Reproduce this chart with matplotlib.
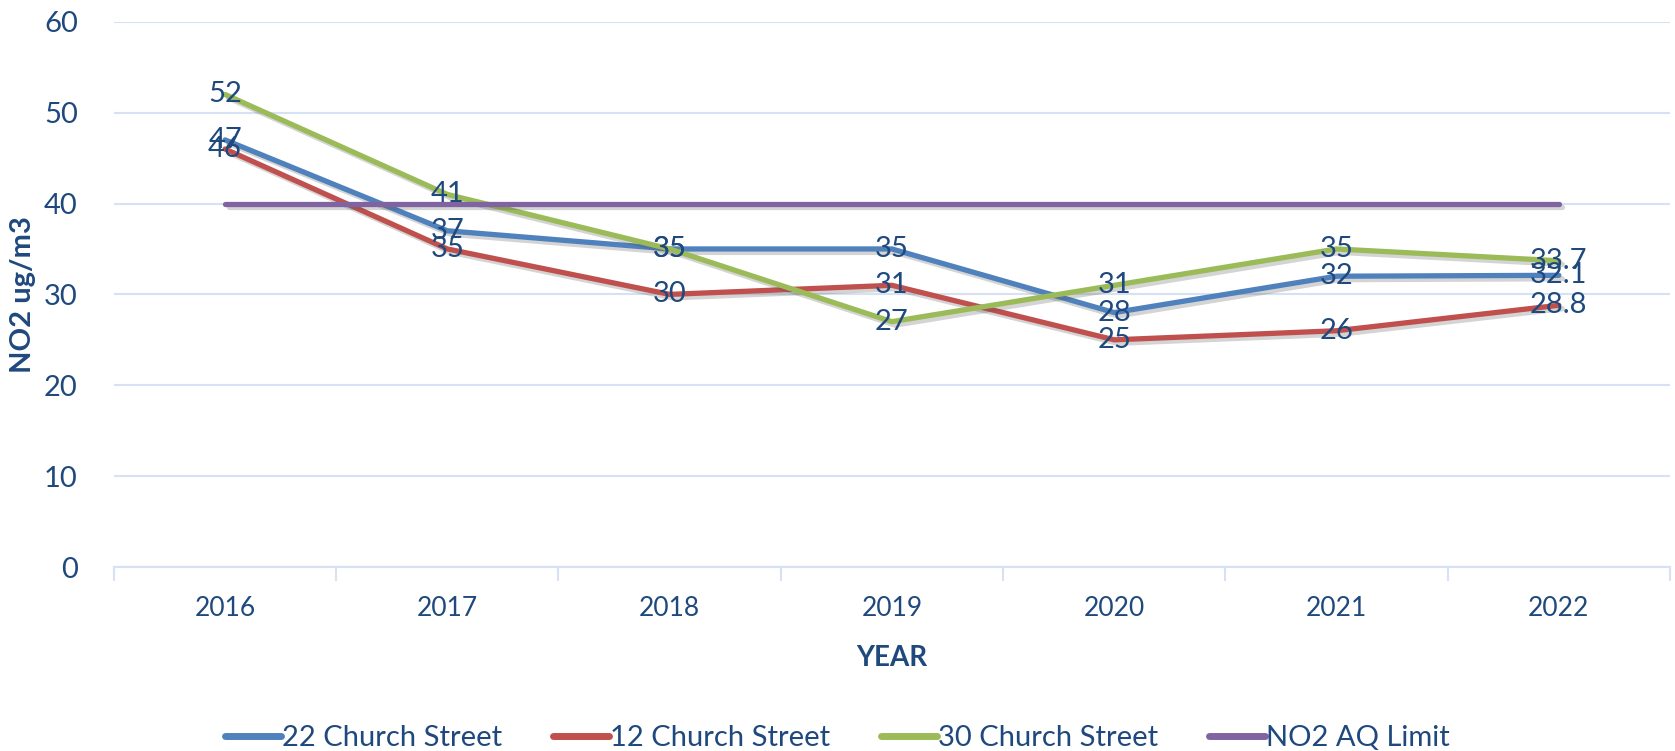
import matplotlib.pyplot as plt
import matplotlib.patheffects as pe
import numpy as np

plt.rcParams['font.family'] = ['Lato', 'DejaVu Sans']

years = ['2016', '2017', '2018', '2019', '2020', '2021', '2022']
church22 = [47, 37, 35, 35, 28, 32, 32.1]
church12 = [46, 35, 30, 31, 25, 26, 28.8]
church30 = [52, 41, 35, 27, 31, 35, 33.7]
aq_limit = [40, 40, 40, 40, 40, 40, 40]

series_names = ['22 Church Street', '12 Church Street', '30 Church Street', 'NO2 AQ Limit']
colors = ['#4F81BD', '#C0504D', '#9BBB59', '#8064A2']
txt = '#1F497D'
grid_c = '#D6E2F3'

fig = plt.figure(figsize=(16.75, 7.51), dpi=100)
ax = fig.add_axes([0.068, 0.245, 0.929, 0.726])

x = np.arange(len(years))
shadow = [pe.SimpleLineShadow(offset=(2.5, -2.5), alpha=0.25, shadow_color='#555555'), pe.Normal()]

all_series = [church22, church12, church30, aq_limit]
for vals, name, c in zip(all_series, series_names, colors):
    ax.plot(x, vals, color=c, lw=3.8, label=name, solid_capstyle='round',
            path_effects=shadow)

# data labels, centred on the points
for vals in [church22, church12, church30]:
    for xi, v in zip(x, vals):
        ax.text(xi, v, f'{v:g}', ha='center', va='center', fontsize=21, color=txt, zorder=5)

ax.set_xlim(-0.5, len(years) - 0.5)
ax.set_ylim(0, 60)
ax.set_yticks(range(0, 61, 10))
ax.set_xticks(x)
ax.set_xticklabels(years)
ax.set_xticks(np.arange(-0.5, len(years)), minor=True)
ax.tick_params(axis='x', which='major', length=0, pad=21, labelsize=19, labelcolor=txt)
ax.tick_params(axis='x', which='minor', length=10, width=1.5, color=grid_c)
ax.tick_params(axis='y', length=0, pad=26, labelsize=21, labelcolor=txt)

ax.grid(axis='y', color=grid_c, lw=1.5)
ax.set_axisbelow(True)
for s in ['top', 'right', 'left']:
    ax.spines[s].set_visible(False)
ax.spines['bottom'].set_color(grid_c)
ax.spines['bottom'].set_linewidth(1.5)

ax.set_ylabel('NO2 ug/m3', fontsize=21, fontweight='bold', color=txt)
ax.yaxis.set_label_coords(-0.05, 0.5)
ax.set_xlabel('YEAR', fontsize=20, fontweight='bold', color=txt, labelpad=17)

leg = fig.legend(loc='lower center', bbox_to_anchor=(0.5, -0.035), ncol=4, frameon=False,
                 fontsize=21, handlelength=1.9, handletextpad=0.05, columnspacing=1.75)
for t in leg.get_texts():
    t.set_color(txt)
for h in leg.legend_handles:
    h.set_path_effects([])
    h.set_linewidth(5)

fig.savefig('out.png', dpi=100)
